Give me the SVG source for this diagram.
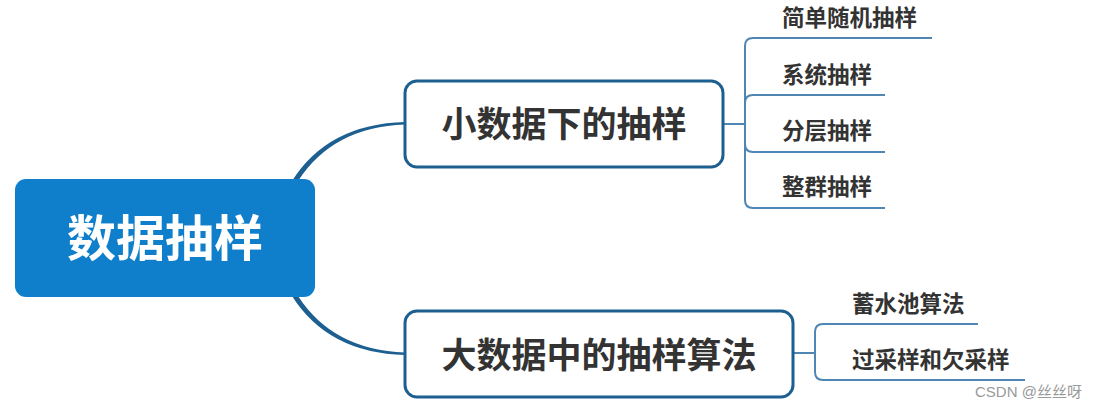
<svg xmlns="http://www.w3.org/2000/svg" width="1098" height="408" viewBox="0 0 1098 408">
<style>
.t{font-family:"Noto Sans CJK SC","Liberation Sans",sans-serif;font-weight:bold;fill:#333}
.box{fill:#fff;stroke:#1d5f91;stroke-width:3}
.br{fill:none;stroke:#4f86b3;stroke-width:2}
.main{fill:#1d5f91}
</style>
<rect width="1098" height="408" fill="#fff"/>
<g id="connectors">
<path class="main" d="M292,181 Q328,124 405,122 L405,124.5 Q333,127 298,181 Z"/>
<path class="main" d="M292,296 Q328,353 405,355 L405,352.5 Q333,350 298,296 Z"/>
<path class="br" d="M723,124 H745"/>
<path class="br" d="M745,124 V46 Q745,38 753,38 H932"/>
<path class="br" d="M745,124 V103 Q745,95 753,95 H885"/>
<path class="br" d="M745,124 V144 Q745,152 753,152 H885"/>
<path class="br" d="M745,124 V200 Q745,208 753,208 H885"/>
<path class="br" d="M793,353 H815"/>
<path class="br" d="M815,353 V332 Q815,324 823,324 H978"/>
<path class="br" d="M815,353 V372 Q815,380 823,380 H1025"/>
</g>
<g id="root">
<rect x="15" y="179" width="300" height="118" rx="11" fill="#0f7fcb"/>
<text x="165" y="256" text-anchor="middle" font-size="49" class="t" style="fill:#fff">数据抽样</text>
</g>
<g id="small">
<rect class="box" x="405" y="81" width="318" height="86" rx="12"/>
<text x="564" y="137" text-anchor="middle" font-size="35" class="t">小数据下的抽样</text>
</g>
<g id="big">
<rect class="box" x="405" y="311" width="388" height="86" rx="12"/>
<text x="599" y="368" text-anchor="middle" font-size="35" class="t">大数据中的抽样算法</text>
</g>
<g id="leaf1"><text x="782" y="26" font-size="22.5" class="t">简单随机抽样</text></g>
<g id="leaf2"><text x="782" y="83" font-size="22.5" class="t">系统抽样</text></g>
<g id="leaf3"><text x="782" y="139" font-size="22.5" class="t">分层抽样</text></g>
<g id="leaf4"><text x="782" y="195" font-size="22.5" class="t">整群抽样</text></g>
<g id="leaf5"><text x="852" y="312" font-size="22.5" class="t">蓄水池算法</text></g>
<g id="leaf6"><text x="852" y="368" font-size="22.5" class="t">过采样和欠采样</text></g>
<text x="975" y="397" font-size="15" font-family="Liberation Sans,Noto Sans CJK SC,sans-serif" fill="#999">CSDN @丝丝呀</text>
</svg>
